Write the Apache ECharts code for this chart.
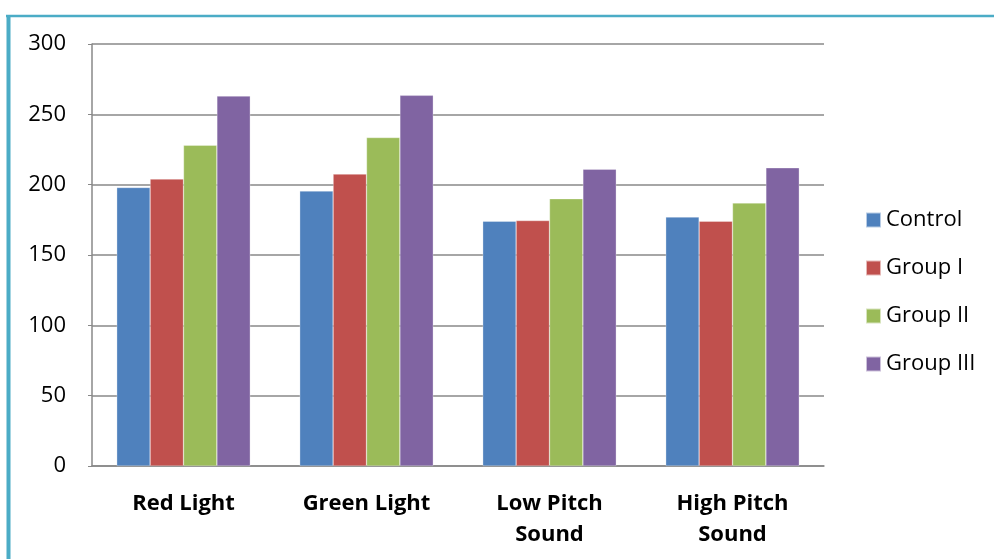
<!DOCTYPE html>
<html>
<head>
<meta charset="utf-8">
<script src="https://cdn.jsdelivr.net/npm/echarts@6/dist/echarts.min.js"></script>
<style>
  html, body { margin: 0; padding: 0; background: #fff; }
  #chart { width: 994px; height: 559px; }
</style>
</head>
<body>
<div id="chart"></div>
<script>
// Categories and per-group values
const categories = ['Red Light', 'Green Light', 'Low Pitch\nSound', 'High Pitch\nSound'];
const control  = [198, 195.5, 174, 177];
const groupI   = [204, 207.5, 174.5, 174];
const groupII  = [228, 233.5, 190, 187];
const groupIII = [263, 263.5, 211, 212];
const yTicks = [0, 50, 100, 150, 200, 250, 300];

const seriesNames = ['Control', 'Group I', 'Group II', 'Group III'];
const seriesData = [control, groupI, groupII, groupIII];
const colors = ['#4f81bd', '#c0504d', '#9bbb59', '#8064a2'];

const FONT = 'Open Sans';

const chart = echarts.init(document.getElementById('chart'));
chart.setOption({
  animation: false,
  backgroundColor: '#fff',
  color: colors,
  textStyle: { fontFamily: FONT },
  graphic: [
    { type: 'line', shape: { x1: 6, y1: 16, x2: 994, y2: 16 }, style: { stroke: '#4bacc6', lineWidth: 2.5 } },
    { type: 'line', shape: { x1: 8.5, y1: 15, x2: 8.5, y2: 559 }, style: { stroke: '#4bacc6', lineWidth: 4 } }
  ],
  legend: {
    orient: 'vertical',
    left: 865,
    top: 208,
    padding: 0,
    itemWidth: 15,
    itemHeight: 15,
    itemGap: 24,
    icon: 'rect',
    textStyle: { fontSize: 22, lineHeight: 24, color: '#000', fontFamily: FONT },
    data: seriesNames
  },
  grid: { left: 92, top: 44, right: 170, bottom: 93, containLabel: false },
  xAxis: {
    type: 'category',
    data: categories,
    axisLine: { show: true, lineStyle: { color: '#888', width: 1.5 } },
    axisTick: { show: false },
    axisLabel: { fontSize: 22, fontWeight: 'bold', color: '#000', margin: 22, lineHeight: 31, fontFamily: FONT }
  },
  yAxis: {
    type: 'value',
    min: 0, max: 300, interval: 50,
    axisLine: { show: true, lineStyle: { color: '#888', width: 1.5 } },
    axisTick: { show: true, length: 4, lineStyle: { color: '#888' } },
    axisLabel: { fontSize: 22, color: '#000', margin: 26, fontFamily: FONT,
      formatter: v => yTicks.includes(v) ? String(v) : '' },
    splitLine: { show: true, lineStyle: { color: '#888', width: 1.5 } }
  },
  series: seriesNames.map((name, i) => ({
    name,
    type: 'bar',
    data: seriesData[i],
    barGap: '0%',
    barCategoryGap: '27%',
    itemStyle: { color: colors[i], borderColor: 'rgba(255,255,255,0.6)', borderWidth: 0.5 }
  }))
});
</script>
</body>
</html>
